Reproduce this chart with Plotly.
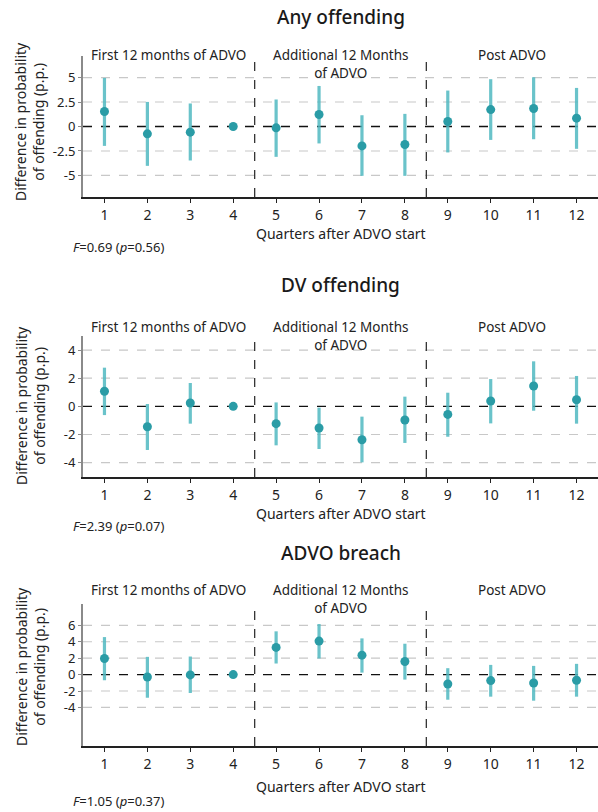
import plotly.graph_objects as go

# Quarters after ADVO start
quarters = list(range(1, 13))

# Any offending: point estimates and 95% CI bounds (p.p.)
any_est = [1.53, -0.75, -0.58, 0.0, -0.14, 1.22, -1.98, -1.84, 0.51, 1.73, 1.84, 0.85]
any_lo = [-1.98, -4.02, -3.47, 0.0, -3.10, -1.73, -5.04, -5.04, -2.65, -1.37, -1.30, -2.28]
any_hi = [4.96, 2.51, 2.35, 0.0, 2.76, 4.14, 1.15, 1.29, 3.67, 4.83, 5.03, 3.94]

# DV offending
dv_est = [1.07, -1.45, 0.24, 0.0, -1.23, -1.54, -2.37, -0.97, -0.57, 0.38, 1.45, 0.47]
dv_lo = [-0.62, -3.10, -1.23, 0.0, -2.77, -3.03, -3.98, -2.60, -2.16, -1.21, -0.31, -1.23]
dv_hi = [2.75, 0.17, 1.66, 0.0, 0.28, -0.09, -0.73, 0.69, 0.97, 1.94, 3.20, 2.16]

# ADVO breach
br_est = [1.96, -0.29, -0.04, 0.0, 3.31, 4.08, 2.37, 1.59, -1.14, -0.73, -1.02, -0.69]
br_lo = [-0.69, -2.82, -2.24, 0.0, 1.35, 1.96, 0.24, -0.61, -3.06, -2.69, -3.18, -2.69]
br_hi = [4.57, 2.16, 2.20, 0.0, 5.27, 6.16, 4.41, 3.76, 0.78, 1.18, 1.06, 1.31]

titles = ["Any offending", "DV offending", "ADVO breach"]
f_stats = ["<i>F</i>=0.69 (<i>p</i>=0.56)", "<i>F</i>=2.39 (<i>p</i>=0.07)", "<i>F</i>=1.05 (<i>p</i>=0.37)"]

any_ticks = [-5, -2.5, 0, 2.5, 5]
any_ticktext = ["-5", "-2.5", "0", "2.5", "5"]
dv_ticks = [-4, -2, 0, 2, 4]
dv_ticktext = ["-4", "-2", "0", "2", "4"]
br_ticks = [-4, -2, 0, 2, 4, 6]
br_ticktext = ["-4", "-2", "0", "2", "4", "6"]

period_labels = ["First 12 months of ADVO", "Additional 12 Months<br>of ADVO", "Post ADVO"]
period_centres = [2.5, 6.5, 10.5]
period_breaks = [4.5, 8.5]

W, H = 598, 812
FONT = "Noto Sans"
BAR_COLOR = "rgba(80,184,193,0.85)"
DOT_COLOR = "#2a9ca6"
TEXT = "#222222"


def py(px):
    return 1 - px / H


def px_x(px):
    return px / W


panels = [
    dict(est=any_est, lo=any_lo, hi=any_hi, ticks=any_ticks, ticktext=any_ticktext,
         yrange=[-7.2, 7.2], top=56, bottom=197, title_y=17, sect_y=53,
         xtitle_y=233, f_y=247, ytitle_y=122),
    dict(est=dv_est, lo=dv_lo, hi=dv_hi, ticks=dv_ticks, ticktext=dv_ticktext,
         yrange=[-5.02, 5.0], top=336, bottom=477, title_y=285, sect_y=325,
         xtitle_y=513, f_y=526, ytitle_y=406),
    dict(est=br_est, lo=br_lo, hi=br_hi, ticks=br_ticks, ticktext=br_ticktext,
         yrange=[-8.7, 8.6], top=604, bottom=746, title_y=553, sect_y=588,
         xtitle_y=786, f_y=801, ytitle_y=667),
]

fig = go.Figure()
annotations = []
shapes = []
layout_axes = {}

for i, p in enumerate(panels):
    n = "" if i == 0 else str(i + 1)
    xref, yref = "x" + n, "y" + n
    plus = [h - e for h, e in zip(p["hi"], p["est"])]
    minus = [e - l for e, l in zip(p["est"], p["lo"])]
    fig.add_trace(go.Scatter(
        x=quarters, y=p["est"], mode="markers", xaxis=xref, yaxis=yref,
        marker=dict(size=9, color=DOT_COLOR),
        error_y=dict(type="data", array=plus, arrayminus=minus, symmetric=False,
                     color=BAR_COLOR, thickness=3.2, width=0),
        showlegend=False, hoverinfo="x+y",
    ))

    layout_axes["xaxis" + n] = dict(
        domain=[83 / W, 1.0], range=[0.5, 12.5], anchor=yref,
        tickvals=quarters, ticktext=[str(q) for q in quarters],
        showgrid=False, zeroline=False, showline=True, linecolor="#222222",
        linewidth=1.5, ticks="outside", ticklen=4, tickcolor="#222222",
        tickfont=dict(family=FONT, size=14, color=TEXT),
    )
    layout_axes["yaxis" + n] = dict(
        domain=[py(p["bottom"]), py(p["top"])], range=p["yrange"], anchor=xref,
        tickvals=p["ticks"], ticktext=p["ticktext"],
        showgrid=False, zeroline=False, showline=True, linecolor="#8a8a8a", linewidth=2,
        ticks="outside", ticklen=3, tickcolor="#8a8a8a",
        tickfont=dict(family=FONT, size=13, color=TEXT),
    )

    # light dashed gridlines at the non-zero ticks
    for t in p["ticks"]:
        if t == 0:
            continue
        shapes.append(dict(type="line", xref=xref + " domain", yref=yref,
                           x0=0, x1=1, y0=t, y1=t,
                           line=dict(color="#c8c8c8", width=1.2, dash="dash"),
                           layer="below"))
    # zero reference line
    shapes.append(dict(type="line", xref=xref + " domain", yref=yref,
                       x0=0, x1=1, y0=0, y1=0,
                       line=dict(color="#111111", width=1.3, dash="dash"),
                       layer="below"))
    # period separators
    for b in period_breaks:
        shapes.append(dict(type="line", xref=xref, yref=yref + " domain",
                           x0=b, x1=b, y0=0, y1=1,
                           line=dict(color="#333333", width=1.3, dash="dash"),
                           layer="below"))

    # panel title
    annotations.append(dict(text=titles[i], xref="paper", yref="paper",
                            x=(83 + W) / 2 / W, y=py(p["title_y"]),
                            xanchor="center", yanchor="middle", showarrow=False,
                            font=dict(family=FONT, size=19, color="#1a1a1a", weight=500)))
    # period labels
    for lab, c in zip(period_labels, period_centres):
        annotations.append(dict(text=lab, xref=xref, yref="paper", x=c,
                                y=py(p["sect_y"] - 9), xanchor="center", yanchor="top",
                                showarrow=False,
                                font=dict(family=FONT, size=13.5, color=TEXT)))
    # x-axis title
    annotations.append(dict(text="Quarters after ADVO start", xref="paper", yref="paper",
                            x=(83 + W) / 2 / W, y=py(p["xtitle_y"]),
                            xanchor="center", yanchor="middle", showarrow=False,
                            font=dict(family=FONT, size=14, color=TEXT)))
    # F statistic
    annotations.append(dict(text=f_stats[i], xref="paper", yref="paper",
                            x=px_x(71), y=py(p["f_y"]), xanchor="left", yanchor="middle",
                            showarrow=False,
                            font=dict(family=FONT, size=13, color=TEXT)))
    # y-axis title
    annotations.append(dict(text="Difference in probability<br>of offending (p.p.)",
                            xref="paper", yref="paper", x=px_x(30), y=py(p["ytitle_y"]),
                            xanchor="center", yanchor="middle", textangle=-90,
                            showarrow=False,
                            font=dict(family=FONT, size=14, color=TEXT)))

fig.update_layout(
    width=W, height=H, margin=dict(l=0, r=0, t=0, b=0),
    paper_bgcolor="white", plot_bgcolor="white",
    annotations=annotations, shapes=shapes,
    **layout_axes,
)

fig.write_html("out.html")
